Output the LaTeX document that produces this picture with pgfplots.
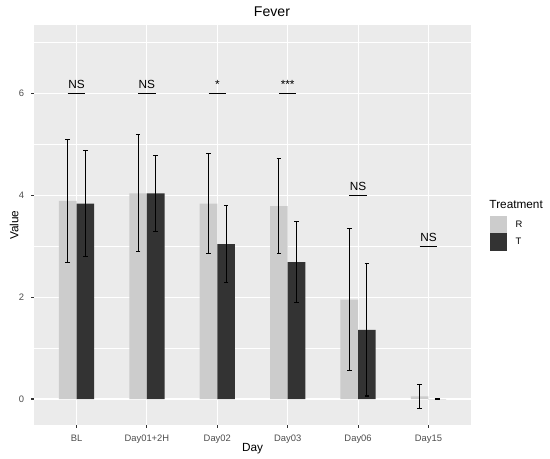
\documentclass[border=0pt]{standalone}
\usepackage{pgfplots}
\pgfplotsset{compat=1.18}
\usepackage{fontspec}
\setmainfont{Liberation Sans}
\definecolor{panelbg}{HTML}{EBEBEB}
\definecolor{rcol}{HTML}{CCCCCC}
\definecolor{tcol}{HTML}{333333}
\definecolor{tickcol}{HTML}{333333}
\definecolor{labcol}{HTML}{4D4D4D}
\newcommand{\tickfont}{\fontsize{9.4bp}{11bp}\selectfont}
\newcommand{\labfont}{\fontsize{11.8bp}{14bp}\selectfont}
\newcommand{\titfont}{\fontsize{14.1bp}{17bp}\selectfont}
\begin{document}
\begin{tikzpicture}[x=1bp,y=1bp]
\useasboundingbox (0,0) rectangle (550,459);
\begin{axis}[
  at={(34.3bp,34bp)}, anchor=south west,
  scale only axis, width=436.4bp, height=399.7bp,
  xmin=0.4, xmax=6.6, ymin=-0.51, ymax=7.34,
  clip mode=individual,
  axis background/.style={fill=panelbg},
  axis line style={draw=none},
  tick pos=left, tick align=outside,
  major tick length=2.9bp, minor tick length=0pt,
  every tick/.style={tickcol, line width=1.07bp},
  xtick={1,2,3,4,5,6},
  xticklabels={BL,Day01+2H,Day02,Day03,Day06,Day15},
  ytick={0,2,4,6},
  minor ytick={1,3,5,7},
  xmajorgrids, ymajorgrids, yminorgrids,
  major grid style={white, line width=1.14bp},
  minor grid style={white, line width=0.57bp},
  /pgf/number format/assume math mode=true,
  xticklabel style={font=\tickfont, text=labcol, inner sep=0pt, anchor=base, yshift=-13.3bp},
  yticklabel style={font=\tickfont, text=labcol, inner sep=0pt, anchor=east, xshift=-7bp},
  title={Fever}, xlabel={Day}, ylabel={Value},
  every axis title/.style={at={(axis description cs:0.5447,1.0215)}, anchor=base, font=\titfont},
  every axis x label/.style={at={(axis description cs:0.5,-0.0675)}, anchor=base, font=\labfont},
  every axis y label/.style={at={(axis description cs:-0.0367,0.5)}, rotate=90, anchor=base, font=\labfont},
  legend style={at={(axis description cs:1.0442,0.5229)}, anchor=north west, draw=none, fill=none,
    inner sep=0pt, outer sep=0pt, row sep=0pt,
    nodes={inner sep=0pt, anchor=west, minimum height=17.3bp, font=\tickfont, text=black}},
  legend cell align=left,
  legend image code/.code={\fill[#1] (0bp,-8.65bp) rectangle (17.3bp,8.65bp);},
  error bars/error bar style={black, line width=1.07bp},
  error bars/error mark options={rotate=90, black, line width=1.07bp, mark size=2.3bp},
]
\addplot[ybar, bar width=0.25, bar shift=0pt, fill=rcol, draw=none,
  error bars/.cd, y dir=both, y explicit]
  coordinates {
  (0.875,3.89) +- (0,1.20)
  (1.875,4.04) +- (0,1.15)
  (2.875,3.84) +- (0,0.99)
  (3.875,3.79) +- (0,0.94)
  (4.875,1.95) +- (0,1.39)
  (5.875,0.05) +- (0,0.23)
  };
\addlegendentry{\hspace{8.3bp}R}
\addplot[ybar, bar width=0.25, bar shift=0pt, fill=tcol, draw=none,
  error bars/.cd, y dir=both, y explicit]
  coordinates {
  (1.125,3.84) +- (0,1.04)
  (2.125,4.04) +- (0,0.75)
  (3.125,3.04) +- (0,0.76)
  (4.125,2.69) +- (0,0.80)
  (5.125,1.36) +- (0,1.30)
  (6.125,0.00) +- (0,0.00)
  };
\addlegendentry{\hspace{8.3bp}T}
\addplot[black, line width=1.07bp, unbounded coords=jump, forget plot]
  coordinates {
  (0.875,6) (1.125,6) (1.5,nan)
  (1.875,6) (2.125,6) (2.5,nan)
  (2.875,6) (3.125,6) (3.5,nan)
  (3.875,6) (4.125,6) (4.5,nan)
  (4.875,4) (5.125,4) (5.5,nan)
  (5.875,3) (6.125,3)
  };
\node[anchor=base, font=\labfont] at (axis cs:1,6.1) {NS};
\node[anchor=base, font=\labfont] at (axis cs:2,6.1) {NS};
\node[anchor=base, font=\labfont] at (axis cs:3,6.1) {*};
\node[anchor=base, font=\labfont] at (axis cs:4,6.1) {***};
\node[anchor=base, font=\labfont] at (axis cs:5,4.1) {NS};
\node[anchor=base, font=\labfont] at (axis cs:6,3.1) {NS};
\node[anchor=base west, font=\labfont, inner sep=0pt] at (axis description cs:1.0426,0.5424) {Treatment};
\end{axis}
\end{tikzpicture}
\end{document}
